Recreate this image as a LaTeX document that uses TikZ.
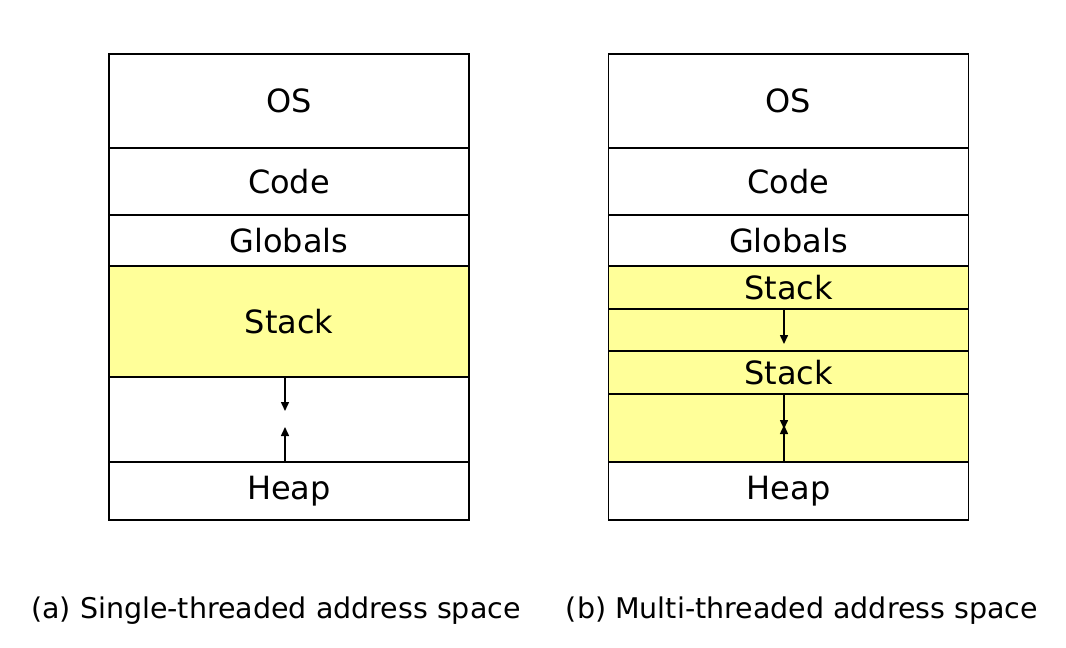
\documentclass[tikz,border=0pt]{standalone}
\usepackage{fontspec}
\setmainfont{DejaVu Sans}
\usetikzlibrary{arrows.meta}
\definecolor{stackyellow}{HTML}{FFFF99}
\tikzset{
  memrow/.style={draw=black, line width=1.8pt, minimum width=360pt, inner sep=0pt, outer sep=0pt, font=\fontsize{32}{38}\selectfont, text=black},
  stackrow/.style={memrow, fill=stackyellow},
  growarrow/.style={line width=1.5pt, -{Triangle[length=9pt,width=8pt]}},
  caption/.style={font=\fontsize{28.5}{34}\selectfont, anchor=base}
}
\begin{document}
\begin{tikzpicture}[x=1pt,y=-1pt]
\useasboundingbox (0,0) rectangle (1066,648);
% (a) single-threaded
\node[memrow, minimum height=94pt] (osA) at (289,101) {OS};
\node[memrow, minimum height=67pt] (codeA) at (289,181.5) {Code};
\node[memrow, minimum height=51pt] (globA) at (289,240.5) {Globals};
\node[stackrow, minimum height=111pt] (stackA) at (289,321.5) {Stack};
\node[memrow, minimum height=85pt] (gapA) at (289,419.5) {};
\node[memrow, minimum height=58pt] (heapA) at (289,491) {Heap};
\coordinate (downA) at (285,411);
\coordinate (upA) at (285,427);
\draw[growarrow] (gapA.north -| downA) -- (downA);
\draw[growarrow] (heapA.north -| upA) -- (upA);
% (b) multi-threaded
\node[memrow, minimum height=94pt] (osB) at (788.5,101) {OS};
\node[memrow, minimum height=67pt] (codeB) at (788.5,181.5) {Code};
\node[memrow, minimum height=51pt] (globB) at (788.5,240.5) {Globals};
\node[stackrow, minimum height=43pt] (stackB1) at (788.5,287.5) {Stack};
\node[stackrow, minimum height=42pt] (gapB1) at (788.5,330) {};
\node[stackrow, minimum height=43pt] (stackB2) at (788.5,372.5) {Stack};
\node[stackrow, minimum height=68pt] (gapB2) at (788.5,428) {};
\node[memrow, minimum height=58pt] (heapB) at (788.5,491) {Heap};
\coordinate (downB1) at (784,344);
\coordinate (downB2) at (784,429);
\coordinate (upB) at (784,425);
\draw[growarrow] (gapB1.north -| downB1) -- (downB1);
\draw[growarrow] (gapB2.north -| downB2) -- (downB2);
\draw[growarrow] (heapB.north -| upB) -- (upB);
% captions
\node[caption] (capA) at (276,618) {(a) Single-threaded address space};
\node[caption] (capB) at (802,618) {(b) Multi-threaded address space};
\end{tikzpicture}
\end{document}
